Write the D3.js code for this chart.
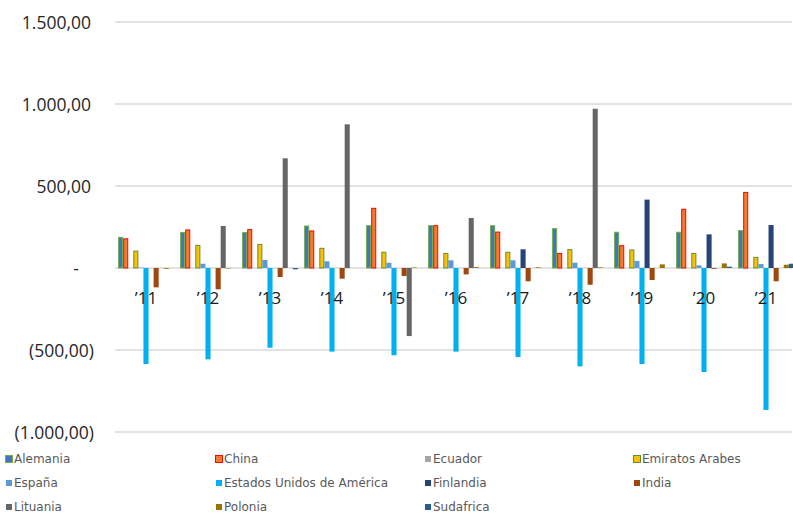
<!DOCTYPE html>
<html>
<head>
<meta charset="utf-8">
<script src="https://cdn.jsdelivr.net/npm/d3@7"></script>
<style>
  html, body { margin: 0; padding: 0; background: #ffffff; }
  svg { display: block; }
</style>
</head>
<body>
<svg id="chart" width="793" height="513"></svg>
<script>
// Years on the category axis
const years = ["’11", "’12", "’13", "’14", "’15", "’16", "’17", "’18", "’19", "’20", "’21"];

// Country series, in legend order
const countries = ["Alemania", "China", "Ecuador", "Emiratos Arabes", "España",
  "Estados Unidos de América", "Finlandia", "India", "Lituania", "Polonia", "Sudafrica"];

// Values per country, one per year
const alemania   = [187, 216, 216, 256, 258, 258, 258, 240, 218, 218, 228];
const china      = [178, 232, 234, 226, 364, 258, 219, 89, 136, 358, 461];
const ecuador    = [0, 0, 0, 0, 0, 0, 0, 0, 0, 0, 0];
const emiratos   = [103, 138, 144, 120, 96, 89, 96, 112, 110, 89, 65];
const espana     = [3, 26, 49, 41, 32, 47, 47, 32, 43, 16, 24];
const eeuu       = [-585, -557, -486, -510, -532, -510, -543, -600, -585, -634, -866];
const finlandia  = [0, 0, 0, 0, 0, 0, 114, 0, 417, 205, 262];
const india      = [-118, -130, -55, -65, -49, -39, -81, -102, -73, -5, -81];
const lituania   = [0, 256, 669, 876, -415, 305, 0, 971, 0, 0, 0];
const polonia    = [-5, -3, 0, 0, 3, 5, 4, 4, 22, 28, 20];
const sudafrica  = [0, 0, -8, 0, 0, 0, 0, 0, 0, 8, 26];

// Y axis tick values and labels
const yTicks = [1500, 1000, 500, 0, -500, -1000];
const yTickLabels = ["1.500,00", "1.000,00", "500,00", "-", "(500,00)", "(1.000,00)"];

const seriesValues = [alemania, china, ecuador, emiratos, espana, eeuu,
  finlandia, india, lituania, polonia, sudafrica];

const fills = ["#4472c4", "#ed7d31", "#a5a5a5", "#ffc000", "#5b9bd5", "#00b0f0",
  "#264478", "#9e480e", "#666666", "#997300", "#255e91"];
const strokes = ["#70ad47", "#ff0000", null, "#5e8f3a", null, null,
  null, null, null, null, null];

const svg = d3.select("#chart");

const x0 = d3.scaleBand().domain(years).range([115, 797])
  .paddingInner(0.1).paddingOuter(0.05);
const x1 = d3.scaleBand().domain(countries).range([0, x0.bandwidth()]);
const y = d3.scaleLinear().domain([-1000, 1500]).range([432, 22]);

// Gridlines
svg.append("g").selectAll("line")
  .data(yTicks)
  .join("line")
  .attr("x1", 115).attr("x2", 792)
  .attr("y1", d => y(d)).attr("y2", d => y(d))
  .attr("stroke", "#d9d9d9").attr("stroke-width", 1.5);

// Y axis labels
const yAxis = d3.axisLeft(y).tickValues(yTicks)
  .tickFormat((d, i) => yTickLabels[i]).tickSize(0).tickPadding(0);
const yG = svg.append("g").attr("transform", "translate(91,0)").call(yAxis);
yG.select(".domain").remove();
yG.selectAll("text")
  .attr("font-family", "'Open Sans', sans-serif")
  .attr("font-size", 17.5)
  .attr("fill", "#262626")
  .attr("dy", "0.35em")
  .attr("x", d => d < 0 ? 3 : (d === 0 ? -12 : 0));

// Bars
const groups = svg.append("g").selectAll("g")
  .data(years)
  .join("g")
  .attr("transform", d => `translate(${x0(d)},0)`);

groups.selectAll("rect")
  .data((yr, i) => countries.map((c, k) => ({ c, k, v: seriesValues[k][i] })))
  .join("rect")
  .filter(d => d.v !== 0)
  .attr("x", d => x1(d.c) + (strokes[d.k] ? 0.5 : 0))
  .attr("width", d => x1.bandwidth() - (strokes[d.k] ? 1 : 0))
  .attr("y", d => Math.min(y(d.v), y(0)))
  .attr("height", d => Math.abs(y(d.v) - y(0)))
  .attr("fill", d => fills[d.k])
  .attr("stroke", d => strokes[d.k] || "none")
  .attr("stroke-width", 1);

// X axis labels, on top of the bars
svg.append("g").selectAll("text")
  .data(years)
  .join("text")
  .attr("x", d => x0(d) + x0.bandwidth() / 2)
  .attr("y", 304)
  .attr("text-anchor", "middle")
  .attr("font-family", "'Open Sans', sans-serif")
  .attr("font-size", 17)
  .attr("fill", "#1a1a1a")
  .text(d => d);

// Legend: four columns, three rows
const legendX = [5, 215, 424, 633];
const legendY = [459, 483, 507];
const leg = svg.append("g").selectAll("g")
  .data(countries)
  .join("g")
  .attr("transform", (d, i) => `translate(${legendX[i % 4]},${legendY[Math.floor(i / 4)]})`);

leg.append("rect")
  .attr("x", (d, i) => strokes[i] ? 0.5 : 1)
  .attr("y", (d, i) => strokes[i] ? -3.5 : -3)
  .attr("width", (d, i) => strokes[i] ? 7 : 6)
  .attr("height", (d, i) => strokes[i] ? 7 : 6)
  .attr("fill", (d, i) => fills[i])
  .attr("stroke", (d, i) => strokes[i] || "none")
  .attr("stroke-width", 1);

leg.append("text")
  .attr("x", 9)
  .attr("y", 0)
  .attr("dy", "0.35em")
  .attr("font-family", "'DejaVu Sans', sans-serif")
  .attr("font-size", 12)
  .attr("fill", "#595959")
  .text(d => d);
</script>
</body>
</html>
